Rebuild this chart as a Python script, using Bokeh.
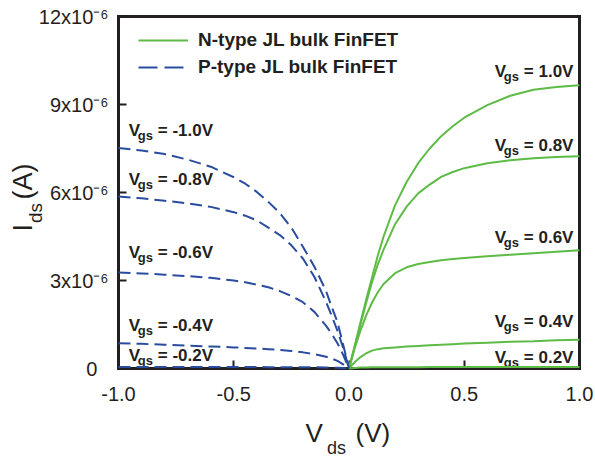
from bokeh.plotting import figure
from bokeh.models import (Range1d, Label, Legend, LegendItem, FixedTicker, NumeralTickFormatter,
                          LinearAxis)
from bokeh.embed import file_html
from bokeh.resources import INLINE
import math

# ---------------- data (drain current in units of 1e-6 A) ----------------
vds_n = [0, 0.025, 0.05, 0.075, 0.1, 0.125, 0.15, 0.2, 0.25, 0.3, 0.35, 0.4, 0.45, 0.5, 0.6, 0.7, 0.8, 0.9, 1.0]
ids_n_10 = [0, 0.78, 1.58, 2.36, 3.10, 3.85, 4.50, 5.57, 6.36, 7.00, 7.50, 7.92, 8.26, 8.55, 8.98, 9.30, 9.50, 9.60, 9.66]
ids_n_08 = [0, 0.76, 1.52, 2.25, 2.95, 3.55, 4.05, 4.92, 5.52, 5.97, 6.27, 6.53, 6.70, 6.83, 7.00, 7.10, 7.17, 7.21, 7.24]
ids_n_06 = [0, 0.70, 1.30, 1.82, 2.25, 2.60, 2.88, 3.25, 3.45, 3.56, 3.63, 3.69, 3.73, 3.77, 3.83, 3.88, 3.93, 3.98, 4.03]
ids_n_04 = [0, 0.22, 0.39, 0.52, 0.61, 0.66, 0.69, 0.72, 0.75, 0.77, 0.79, 0.81, 0.83, 0.85, 0.88, 0.91, 0.93, 0.96, 0.98]
ids_n_02 = [0, 0.02, 0.03, 0.035, 0.04, 0.04, 0.04, 0.045, 0.045, 0.045, 0.05, 0.05, 0.05, 0.05, 0.05, 0.05, 0.055, 0.055, 0.055]

vds_p = [-1.0, -0.9, -0.8, -0.7, -0.6, -0.5, -0.45, -0.4, -0.35, -0.3, -0.25, -0.2, -0.15, -0.1, -0.075, -0.05, -0.025, 0]
ids_p_10 = [7.52, 7.43, 7.31, 7.12, 6.88, 6.52, 6.30, 6.02, 5.68, 5.30, 4.80, 4.15, 3.47, 2.65, 2.10, 1.58, 0.80, 0]
ids_p_08 = [5.86, 5.80, 5.72, 5.63, 5.51, 5.33, 5.21, 5.05, 4.80, 4.55, 4.20, 3.75, 3.12, 2.28, 1.80, 1.28, 0.70, 0]
ids_p_06 = [3.27, 3.24, 3.20, 3.15, 3.09, 3.00, 2.94, 2.86, 2.77, 2.64, 2.47, 2.26, 1.93, 1.46, 1.18, 0.86, 0.46, 0]
ids_p_04 = [0.86, 0.84, 0.81, 0.78, 0.75, 0.72, 0.70, 0.68, 0.66, 0.63, 0.60, 0.55, 0.49, 0.40, 0.34, 0.26, 0.14, 0]
ids_p_02 = [0.05, 0.05, 0.05, 0.05, 0.05, 0.05, 0.05, 0.05, 0.045, 0.045, 0.045, 0.04, 0.04, 0.035, 0.03, 0.025, 0.015, 0]

x_ticks = [-1.0, -0.5, 0.0, 0.5, 1.0]
y_ticks = [0, 3, 6, 9, 12]
y_tick_labels = ["0\u2007", "3x10\u207b\u2076", "6x10\u207b\u2076", "9x10\u207b\u2076", "12x10\u207b\u2076"]

n_labels = ["= 1.0V", "= 0.8V", "= 0.6V", "= 0.4V", "= 0.2V"]
p_labels = ["= -1.0V", "= -0.8V", "= -0.6V", "= -0.4V", "= -0.2V"]
legend_names = ["N-type JL bulk FinFET", "P-type JL bulk FinFET"]

# ---------------- style / layout ----------------
GREEN = "#5DBB46"
BLUE = "#2A4C9E"
INK = "#231F20"
FONT = "Liberation Sans"

W, H = 595, 458
FL, FR, FT, FB = 118, 579, 16, 368   # plot box edges in canvas px
X0, X1, Y0, Y1 = -1.0, 1.0, 0.0, 12.0
sx = (FR - FL) / (X1 - X0)
sy = (FB - FT) / (Y1 - Y0)

p = figure(width=W, height=H, output_backend="svg", toolbar_location=None,
           x_axis_type=None, y_axis_type=None,
           x_range=Range1d(X0 - FL / sx, X1 + (W - FR) / sx),
           y_range=Range1d(Y0 - (H - FB) / sy, Y1 + FT / sy),
           min_border=0, min_border_left=0, min_border_right=0, min_border_top=0, min_border_bottom=0)
p.background_fill_color = "white"
p.border_fill_color = "white"
p.outline_line_color = None
p.grid.visible = False


def style_axis(ax, labels=True):
    ax.axis_line_width = 3
    ax.axis_line_color = INK
    ax.axis_line_cap = "square"
    ax.major_tick_in = 8
    ax.major_tick_out = 0
    ax.major_tick_line_width = 2
    ax.major_tick_line_color = INK if labels else None
    ax.minor_tick_line_color = None
    ax.major_label_text_font = FONT
    ax.major_label_text_font_size = "20px"
    ax.major_label_text_color = INK
    if not labels:
        ax.major_label_text_alpha = 0
        ax.major_label_text_font_size = "0px"


xb = LinearAxis(fixed_location=Y0, bounds=(X0, X1), ticker=FixedTicker(ticks=x_ticks),
                formatter=NumeralTickFormatter(format="0.0"), major_label_standoff=18)
yl = LinearAxis(fixed_location=X0, bounds=(Y0, Y1), ticker=FixedTicker(ticks=y_ticks),
                major_label_overrides={t: s for t, s in zip(y_ticks, y_tick_labels)},
                major_label_standoff=10)
xt = LinearAxis(fixed_location=Y1, bounds=(X0, X1), ticker=FixedTicker(ticks=[]))
yr = LinearAxis(fixed_location=X1, bounds=(Y0, Y1), ticker=FixedTicker(ticks=[]))
style_axis(xb)
style_axis(yl)
style_axis(xt, False)
style_axis(yr, False)
p.add_layout(xb, "below")
p.add_layout(yl, "left")
p.add_layout(xt, "above")
p.add_layout(yr, "right")

n_series = [ids_n_10, ids_n_08, ids_n_06, ids_n_04, ids_n_02]
p_series = [ids_p_10, ids_p_08, ids_p_06, ids_p_04, ids_p_02]
for ys in n_series:
    r = p.line(vds_n, ys, line_color=GREEN, line_width=2)
    r.level = "overlay"
for ys in p_series:
    r = p.line(vds_p, ys, line_color=BLUE, line_width=2, line_dash="12 6")
    r.level = "overlay"

# legend proxies (a single NaN point, draws nothing in the plot)
NAN = float("nan")
ln = p.line([NAN], [NAN], line_color=GREEN, line_width=2)
lp = p.line([NAN], [NAN], line_color=BLUE, line_width=2, line_dash="19 7")
legend = Legend(items=[LegendItem(label=legend_names[0], renderers=[ln]),
                       LegendItem(label=legend_names[1], renderers=[lp])],
                location=(138, H - 78), padding=0, margin=0, spacing=5,
                glyph_width=50, glyph_height=20, label_height=20, label_standoff=10,
                label_text_font=FONT, label_text_font_size="19px", label_text_font_style="bold",
                label_text_color=INK, border_line_alpha=0, background_fill_alpha=0)
p.add_layout(legend)

K = 0.28  # baseline correction (fraction of font size)


def txt(px, py, s, size, bold=False, angle=0.0):
    # px, py: canvas pixel position (from top-left) of the text's baseline start
    if angle == 0.0:
        py = py - K * size
    else:
        px = px - K * size
    p.add_layout(Label(x=px, y=py, x_units="canvas", y_units="canvas", text=s,
                       text_font=FONT, text_font_size=f"{size}px",
                       text_font_style="bold" if bold else "normal", text_color=INK,
                       text_baseline="alphabetic", text_align="left", angle=angle))


def vgs_label(px, py, rest):
    txt(px, py, "V", 17, True)
    txt(px + 9, py + 4, "gs", 13, True)
    txt(px + 29, py, rest, 17, True)


for s, py in zip(n_labels, [76, 149.5, 242, 326, 362]):
    vgs_label(494.3, py, s)
for s, py in zip(p_labels, [135, 184, 256.7, 330, 360]):
    vgs_label(128.3, py, s)

# x-axis title  V_ds (V)
txt(305, 440, "V", 26)
txt(326.5, 452.5, "ds", 18)
txt(355, 440, "(V)", 26)
# y-axis title  I_ds (A)
txt(30, 231, "I", 27, angle=math.pi / 2)
txt(40, 222.5, "ds", 19, angle=math.pi / 2)
txt(30, 199, "(A)", 27, angle=math.pi / 2)

open("out.html", "w").write(file_html(p, INLINE))
